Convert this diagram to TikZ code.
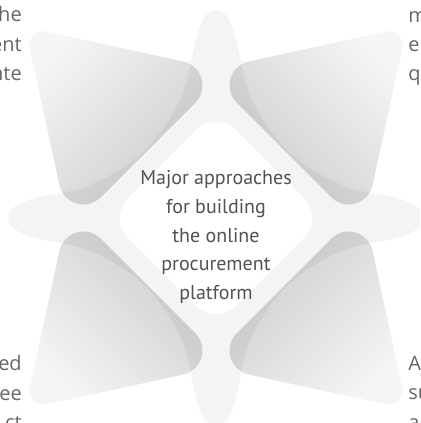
\documentclass[tikz,border=0pt]{standalone}
\usepackage{fontspec}
\setmainfont{PT Sans}
\newfontfamily\sidefont{Open Sans}
\usepackage{tikz}
\usetikzlibrary{calc}
\definecolor{starfill}{gray}{0.955}
\definecolor{petaltip}{gray}{0.96}
\definecolor{petalbase}{gray}{0.80}
\definecolor{ink}{gray}{0.32}
\definecolor{sideink}{gray}{0.40}

\begin{document}
\begin{tikzpicture}[x=0.75pt,y=-0.75pt,
  petal/.style={top color=petaltip,bottom color=petalbase,blend mode=multiply},
  sidetext/.style={font=\sidefont\fontsize{15}{18}\selectfont,text=sideink,inner sep=0pt}]
\useasboundingbox (0,0) rectangle (420,423);
\clip (0,0) rectangle (420,423);
\begin{scope}[shift={(216,218)}]
\fill[starfill] (0,-208) .. controls (14,-208) and (20,-185) .. (26,-150)
  .. controls (31,-120) and (50,-90) .. (69,-69) .. controls (90,-50) and (120,-31) .. (150,-26)
  .. controls (185,-20) and (208,-14) .. (208,0) .. controls (208,14) and (185,20) .. (150,26)
  .. controls (120,31) and (90,50) .. (69,69) .. controls (50,90) and (31,120) .. (26,150)
  .. controls (20,185) and (14,208) .. (0,208) .. controls (-14,208) and (-20,185) .. (-26,150)
  .. controls (-31,120) and (-50,90) .. (-69,69) .. controls (-90,50) and (-120,31) .. (-150,26)
  .. controls (-185,20) and (-208,14) .. (-208,0) .. controls (-208,-14) and (-185,-20) .. (-150,-26)
  .. controls (-120,-31) and (-90,-50) .. (-69,-69) .. controls (-50,-90) and (-31,-120) .. (-26,-150)
  .. controls (-20,-185) and (-14,-208) .. (0,-208) -- cycle;
\foreach \sx/\sy/\ang in {-1/-1/45,1/-1/-45,-1/1/135,1/1/-135}{
  \coordinate (tip) at ({191*\sx},{191*\sy});
  \coordinate (side) at ({-11*\sx},{147*\sy});
  \coordinate (foot) at ({147*\sx},{-11*\sy});
  \shade[petal,shading angle=\ang] ($(tip)!16pt!(side)$) -- ($(side)!34pt!(tip)$)
    .. controls ($(side)!19pt!(tip)$) and ($(side)!19pt!(foot)$) .. ($(side)!34pt!(foot)$)
    -- ($(foot)!34pt!(side)$)
    .. controls ($(foot)!19pt!(side)$) and ($(foot)!19pt!(tip)$) .. ($(foot)!34pt!(tip)$)
    -- ($(tip)!16pt!(foot)$)
    .. controls ($(tip)!9pt!(foot)$) and ($(tip)!9pt!(side)$) .. ($(tip)!16pt!(side)$) -- cycle;
}
\fill[white,rounded corners=21pt] (-54,-54) -- (0,-108) -- (108,0) -- (0,108) -- (-108,0) -- cycle;
\node[font=\fontsize{15}{21.6}\selectfont,text=ink,align=center] (title) at (0,19) {Major approaches\\for building\\the online\\procurement\\platform};
\end{scope}
\node[sidetext,anchor=base east] (tlone) at (22,22) {he};
\node[sidetext,anchor=base east] (tltwo) at (22,52) {ent};
\node[sidetext,anchor=base east] (tlthree) at (22,81) {nte};
\node[sidetext,anchor=base west] (trone) at (408,23) {m};
\node[sidetext,anchor=base west] (trtwo) at (408,52) {e};
\node[sidetext,anchor=base west] (trthree) at (408,81) {q};
\node[sidetext,anchor=base east] (blone) at (22,370) {zed};
\node[sidetext,anchor=base east] (bltwo) at (22,400) {tee};
\node[sidetext,anchor=base east] (blthree) at (22,429) {ct};
\node[sidetext,anchor=base west] (brone) at (408,370) {A};
\node[sidetext,anchor=base west] (brtwo) at (408,399) {su};
\node[sidetext,anchor=base west] (brthree) at (408,429) {ar};
\end{tikzpicture}
\end{document}
